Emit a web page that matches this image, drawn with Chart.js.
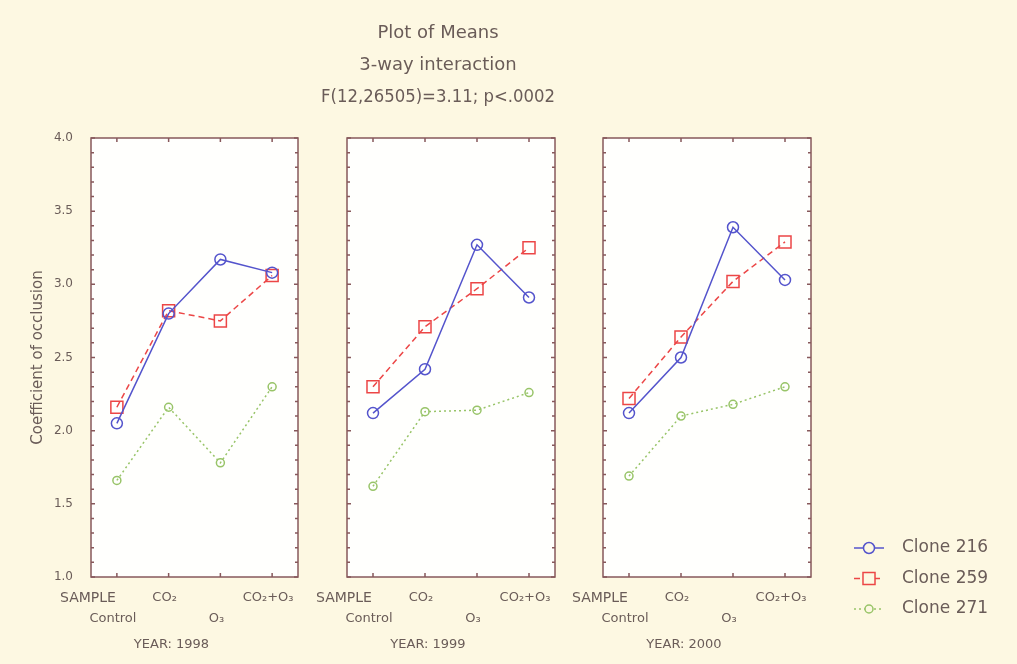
<!DOCTYPE html>
<html>
<head>
<meta charset="utf-8">
<title>Plot of Means</title>
<script src="https://cdn.jsdelivr.net/npm/chart.js"></script>
<style>
  html, body { margin:0; padding:0; background:#fdf8e2; }
  #wrap { position:relative; width:1017px; height:664px; overflow:hidden; }
  canvas { position:absolute; top:0; }
</style>
</head>
<body>
<div id="wrap">
  <canvas id="p0" width="318" height="664" style="left:0px"></canvas>
  <canvas id="p1" width="266" height="664" style="left:310px"></canvas>
  <canvas id="p2" width="451" height="664" style="left:566px"></canvas>
</div>
<script>
// data
const years = ["1998", "1999", "2000"];
const treatments = ["Control", "CO₂", "O₃", "CO₂+O₃"];
const factorName = "SAMPLE";
const cloneNames = ["Clone 216", "Clone 259", "Clone 271"];
// one row per year, one value per treatment
const clone216 = [[2.05, 2.80, 3.17, 3.08], [2.12, 2.42, 3.27, 2.91], [2.12, 2.50, 3.39, 3.03]];
const clone259 = [[2.16, 2.82, 2.75, 3.06], [2.30, 2.71, 2.97, 3.25], [2.22, 2.64, 3.02, 3.29]];
const clone271 = [[1.66, 2.16, 1.78, 2.30], [1.62, 2.13, 2.14, 2.26], [1.69, 2.10, 2.18, 2.30]];
const yTicks = [1.0, 1.5, 2.0, 2.5, 3.0, 3.5, 4.0];
const titleLines = ["Plot of Means", "3-way interaction", "F(12,26505)=3.11; p<.0002"];
const yTitle = "Coefficient of occlusion";

const series = [clone216, clone259, clone271];
const fontFamily = '"DejaVu Sans", Verdana, sans-serif';
const textColor = "#6a5c58";
const frameColor = "#87585b";
const styles = [
  { color: "#5454cc", dash: [], shape: "circle", r: 5.5 },
  { color: "#ec4646", dash: [6, 4], shape: "rect", r: 8.5 },
  { color: "#98c468", dash: [2, 3], shape: "circle", r: 4 }
];

Chart.defaults.font.family = fontFamily;
Chart.defaults.color = textColor;

// staggered two-row labels like the original
const xLabels = treatments.map((t, i) => i % 2 === 1 ? [t, ""] : ["", t]);

const isMajor = v => yTicks.some(t => Math.abs(t - v) < 1e-6);

const framePlugin = {
  id: "frame",
  beforeDatasetsDraw(chart) {
    const { ctx, chartArea: a } = chart;
    ctx.save();
    ctx.fillStyle = "#fffffd";
    ctx.fillRect(a.left, a.top, a.width, a.height);
    ctx.restore();
  },
  afterDraw(chart, args, opts) {
    const { ctx, chartArea: a, scales: { x, y } } = chart;
    ctx.save();
    ctx.strokeStyle = frameColor;
    ctx.lineWidth = 1.5;
    ctx.strokeRect(a.left, a.top, a.width, a.height);
    ctx.beginPath();
    y.ticks.forEach(t => {
      const py = y.getPixelForValue(t.value);
      const len = isMajor(t.value) ? 4 : 3;
      ctx.moveTo(a.left, py); ctx.lineTo(a.left + len, py);
      ctx.moveTo(a.right, py); ctx.lineTo(a.right - len, py);
    });
    x.ticks.forEach((t, i) => {
      const px = x.getPixelForTick(i);
      ctx.moveTo(px, a.top); ctx.lineTo(px, a.top + 4);
      ctx.moveTo(px, a.bottom); ctx.lineTo(px, a.bottom - 4);
    });
    ctx.stroke();

    // factor name left of the first label row, year caption below
    ctx.fillStyle = textColor;
    ctx.textAlign = "center";
    ctx.textBaseline = "middle";
    ctx.font = "14px " + fontFamily;
    ctx.fillText(factorName, a.left - 3, a.bottom + 21);
    ctx.font = "13px " + fontFamily;
    ctx.fillText("YEAR: " + opts.year, (a.left + a.right) / 2 - 23, a.bottom + 68);
    ctx.restore();
  }
};

function drawMarker(ctx, shape, x, y, r) {
  ctx.beginPath();
  if (shape === "rect") {
    const h = r * Math.SQRT1_2;
    ctx.rect(x - h, y - h, 2 * h, 2 * h);
  } else {
    ctx.arc(x, y, r, 0, Math.PI * 2);
  }
  ctx.fill();
  ctx.stroke();
}

const legendPlugin = {
  id: "sideLegend",
  afterDraw(chart) {
    const { ctx, chartArea: a } = chart;
    ctx.save();
    ctx.font = "17px " + fontFamily;
    ctx.textBaseline = "middle";
    chart.data.datasets.forEach((ds, i) => {
      const cy = a.bottom - 29 + i * 30.5;
      const cx = a.right + 58;
      ctx.strokeStyle = ds.borderColor;
      ctx.lineWidth = 1.5;
      ctx.setLineDash(ds.borderDash);
      ctx.beginPath();
      ctx.moveTo(cx - 15, cy);
      ctx.lineTo(cx + 15, cy);
      ctx.stroke();
      ctx.setLineDash([]);
      ctx.fillStyle = "#fdf8e2";
      drawMarker(ctx, ds.pointStyle, cx, cy, ds.pointRadius);
      ctx.fillStyle = textColor;
      ctx.fillText(ds.label, a.right + 91, cy);
    });
    ctx.restore();
  }
};

function makePanel(id, k, opt) {
  const datasets = series.map((vals, s) => ({
    label: cloneNames[s],
    data: vals[k],
    borderColor: styles[s].color,
    backgroundColor: "rgba(0,0,0,0)",
    borderWidth: 1.5,
    borderDash: styles[s].dash,
    pointStyle: styles[s].shape,
    pointRadius: styles[s].r,
    pointBorderWidth: 1.5,
    pointBackgroundColor: "rgba(255,255,255,0)",
    tension: 0
  }));

  return new Chart(document.getElementById(id), {
    type: "line",
    data: { labels: xLabels, datasets },
    options: {
      responsive: false,
      animation: false,
      layout: { padding: opt.padding },
      plugins: {
        legend: { display: false },
        tooltip: { enabled: false },
        title: opt.title || { display: false },
        frame: { year: years[k] }
      },
      scales: {
        x: {
          type: "category",
          offset: true,
          grid: { display: false, drawTicks: false },
          border: { display: false },
          ticks: { font: { size: 13, lineHeight: "21px" }, padding: 10, labelOffset: -4, maxRotation: 0, autoSkip: false },
          afterFit: s => { s.height = 87; }
        },
        y: {
          min: yTicks[0],
          max: yTicks[yTicks.length - 1],
          grid: { display: false, drawTicks: false },
          border: { display: false },
          ticks: {
            stepSize: 0.1,
            autoSkip: false,
            display: opt.showY,
            padding: 18,
            font: { size: 12 },
            callback: v => isMajor(v) ? v.toFixed(1) : ""
          },
          title: { display: opt.showY, text: yTitle, font: { size: 15 }, padding: { top: 29, bottom: 0 } },
          afterFit: s => { s.width = opt.yWidth; }
        }
      }
    },
    plugins: opt.legend ? [framePlugin, legendPlugin] : [framePlugin]
  });
}

makePanel("p0", 0, { padding: { left: 0, right: 20, top: 138, bottom: 0 }, yWidth: 91, showY: true });
makePanel("p1", 1, {
  padding: { left: 11, right: 21, top: 0, bottom: 0 }, yWidth: 26, showY: false,
  title: {
    display: true,
    text: titleLines,
    color: textColor,
    font: { size: 18, weight: "normal", lineHeight: "32px" },
    padding: { top: 17, bottom: 25 }
  }
});
makePanel("p2", 2, { padding: { left: 0, right: 206, top: 138, bottom: 0 }, yWidth: 37, showY: false, legend: true });
</script>
</body>
</html>
